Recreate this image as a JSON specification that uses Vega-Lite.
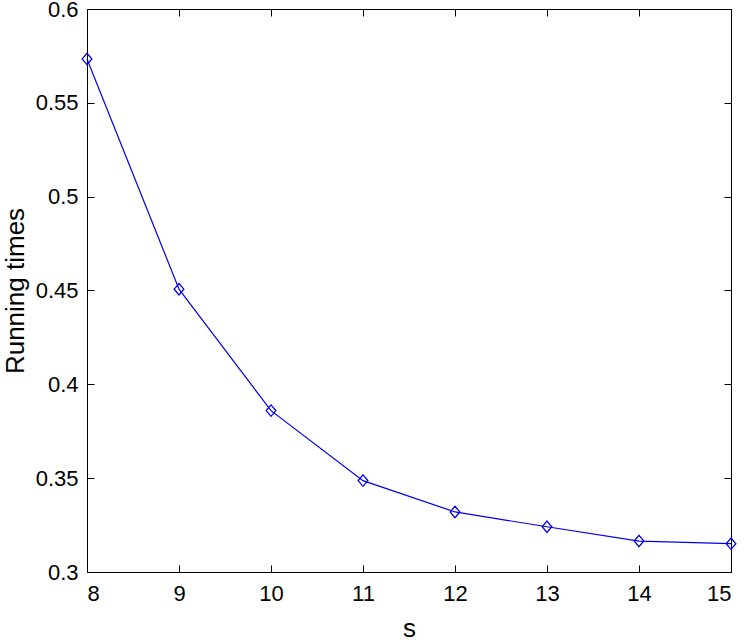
{
  "$schema": "https://vega.github.io/schema/vega-lite/v6.json",
  "width": 644,
  "height": 563,
  "autosize": {"type": "none"},
  "padding": {"left": 87, "top": 9, "right": 13, "bottom": 72},
  "background": "white",
  "config": {
    "font": "Liberation Sans",
    "view": {"stroke": "black", "strokeWidth": 1},
    "axis": {
      "domain": false,
      "grid": false,
      "tickColor": "black",
      "tickSize": -7,
      "tickWidth": 1,
      "labelColor": "black",
      "labelFont": "Liberation Sans",
      "labelFontSize": 22,
      "titleFont": "Liberation Sans",
      "titleFontSize": 26,
      "titleFontWeight": "normal",
      "titleColor": "black"
    }
  },
  "data": {
    "values": [
      {"s": 8, "t": 0.5734},
      {"s": 9, "t": 0.4507},
      {"s": 10, "t": 0.386},
      {"s": 11, "t": 0.3487},
      {"s": 12, "t": 0.3320},
      {"s": 13, "t": 0.3241},
      {"s": 14, "t": 0.3165},
      {"s": 15, "t": 0.3151}
    ]
  },
  "layer": [
    {
      "mark": {"type": "line", "color": "#0000ee", "strokeWidth": 1.2},
      "encoding": {
        "x": {"field": "s", "type": "quantitative", "scale": {"domain": [8, 15], "nice": false, "zero": false},
              "axis": {"orient": "bottom", "values": [8, 9, 10, 11, 12, 13, 14, 15], "title": "s", "labelPadding": 18, "titlePadding": 11}},
        "y": {"field": "t", "type": "quantitative", "scale": {"domain": [0.3, 0.6], "nice": false, "zero": false},
              "axis": {"orient": "left", "values": [0.3, 0.35, 0.4, 0.45, 0.5, 0.55, 0.6], "format": "~g", "title": "Running times", "labelPadding": 16, "titlePadding": 7}}
      }
    },
    {
      "mark": {"type": "point", "shape": "M0,-1L0.85,0L0,1L-0.85,0Z", "size": 130, "filled": false, "color": "#0000ee", "strokeWidth": 1.3, "opacity": 1},
      "encoding": {
        "x": {"field": "s", "type": "quantitative", "axis": null},
        "y": {"field": "t", "type": "quantitative", "axis": null}
      }
    },
    {
      "mark": {"type": "point", "opacity": 0},
      "encoding": {
        "x": {"field": "s", "type": "quantitative",
              "axis": {"orient": "top", "values": [8, 9, 10, 11, 12, 13, 14, 15], "labels": false, "title": null}},
        "y": {"field": "t", "type": "quantitative",
              "axis": {"orient": "right", "values": [0.3, 0.35, 0.4, 0.45, 0.5, 0.55, 0.6], "labels": false, "title": null}}
      }
    }
  ],
  "resolve": {"axis": {"x": "independent", "y": "independent"}}
}
